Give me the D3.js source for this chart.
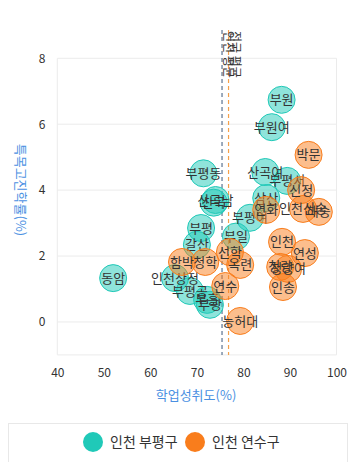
<!DOCTYPE html>
<html><head><meta charset="utf-8">
<script src="https://cdn.jsdelivr.net/npm/d3@7"></script>
<style>body{margin:0;background:#fff;font-family:"Noto Sans CJK KR","Noto Sans",sans-serif;}</style>
</head><body><svg id="c" width="350" height="462"></svg>
<script>
const seriesNames = ["인천 부평구", "인천 연수구"];
const seriesColors = ["#20c9b8", "#f97d1c"];
const bupyeongNames = ["부원","부원여","부평동","산곡여","부평서","삼산","산곡남","산곡","부평","부일","부평여","갈산","동암","인천상정","부평공","부흥","부광"];
const bupyeongX = [88.2,86.1,71.4,84.7,89.4,84.9,74.0,73.6,70.9,78.4,81.4,70.0,52.0,65.3,68.5,72.2,72.8];
const bupyeongY = [6.74,5.91,4.51,4.55,4.28,3.76,3.70,3.62,2.85,2.59,3.16,2.34,1.33,1.33,0.94,0.67,0.52];
const yeonsuNames = ["박문","신정","연화","인천신송","해송","인천","연성","청량","청량여","인송","함박","청학","선학","옥련","연수","능허대"];
const yeonsuX = [94.0,92.4,84.9,92.8,96.2,88.3,93.2,87.9,89.6,88.5,66.8,71.8,77.1,79.3,76.1,79.3];
const yeonsuY = [5.07,4.00,3.40,3.43,3.34,2.43,2.09,1.67,1.61,1.06,1.82,1.82,2.12,1.73,1.09,0.03];
const refLines = [{label:"인천 평균", value:75.4, color:"#5b7391"},{label:"전국 평균", value:76.8, color:"#f5a04a"}];
const xTicks = [40,50,60,70,80,90,100];
const yTicks = [0,2,4,6,8];
const xTitle = "학업성취도(%)";
const yTitle = "특목고진학률(%)";

const svg = d3.select("#c");
const x = d3.scaleLinear().domain([40,100]).range([57.3,336.5]);
const y = d3.scaleLinear().domain([-1,8]).range([354.9,58.3]);
const font = '"Noto Sans CJK KR","Noto Sans",sans-serif';

const g = svg.append("g");
g.selectAll("line.h").data([-1,...yTicks]).join("line")
  .attr("x1", x(40)).attr("x2", x(100)).attr("y1", d=>y(d)).attr("y2", d=>y(d))
  .attr("stroke","#ebebeb").attr("stroke-width",1);
g.selectAll("line.v").data([40,100]).join("line")
  .attr("x1", d=>x(d)).attr("x2", d=>x(d)).attr("y1", y(8)).attr("y2", y(-1))
  .attr("stroke","#ebebeb").attr("stroke-width",1);

const xAxis = d3.axisBottom(x).tickValues(xTicks).tickSize(0).tickPadding(14);
svg.append("g").attr("transform",`translate(0,${y(-1)})`).call(xAxis)
  .call(s=>s.select(".domain").remove())
  .selectAll("text").attr("font-size",12).attr("fill","#333").attr("font-family",font);
const yAxis = d3.axisLeft(y).tickValues(yTicks).tickSize(0).tickPadding(12);
svg.append("g").attr("transform",`translate(${x(40)},0)`).call(yAxis)
  .call(s=>s.select(".domain").remove())
  .selectAll("text").attr("font-size",12).attr("fill","#333").attr("font-family",font);

svg.append("text").attr("x",196).attr("y",400).attr("text-anchor","middle")
  .attr("font-size",13).attr("fill","#4a90e2").attr("font-family",font).text(xTitle);
svg.append("text").attr("transform","translate(16,190) rotate(90)").attr("text-anchor","middle")
  .attr("font-size",13).attr("fill","#4a90e2").attr("font-family",font).text(yTitle);

refLines.forEach(r=>{
  svg.append("line").attr("x1",x(r.value)).attr("x2",x(r.value)).attr("y1",30).attr("y2",y(-1))
    .attr("stroke",r.color).attr("stroke-width",1.2).attr("stroke-dasharray","4,3");
});
refLines.forEach(r=>{
  svg.append("text").attr("transform",`translate(${x(r.value)+2},31) rotate(90)`)
    .attr("font-size",12).attr("fill","#333").attr("font-family",font).text(r.label);
});

const series = [
  {names:bupyeongNames, xs:bupyeongX, ys:bupyeongY, color:seriesColors[0]},
  {names:yeonsuNames, xs:yeonsuX, ys:yeonsuY, color:seriesColors[1]}
];
series.forEach(s=>{
  const data = s.names.map((n,i)=>({n, x:s.xs[i], y:s.ys[i]}));
  const sg = svg.append("g");
  sg.selectAll("circle").data(data).join("circle")
    .attr("cx",d=>x(d.x)).attr("cy",d=>y(d.y)).attr("r",13.5)
    .attr("fill",s.color).attr("fill-opacity",0.5).attr("stroke",s.color).attr("stroke-width",1);
  sg.selectAll("text").data(data).join("text")
    .attr("x",d=>x(d.x)).attr("y",d=>y(d.y)).attr("dy","0.35em").attr("text-anchor","middle")
    .attr("font-size",13).attr("fill","#333").attr("font-family",font).text(d=>d.n);
});

svg.append("rect").attr("x",8.5).attr("y",423.5).attr("width",339).attr("height",50)
  .attr("fill","none").attr("stroke","#e8e8e8");
const leg = [{x:93},{x:195}];
seriesNames.forEach((n,i)=>{
  svg.append("circle").attr("cx",leg[i].x).attr("cy",442).attr("r",10).attr("fill",seriesColors[i]);
  svg.append("text").attr("x",leg[i].x+17).attr("y",442).attr("dy","0.35em")
    .attr("font-size",14).attr("fill","#333").attr("font-family",font).text(n);
});
</script></body></html>
